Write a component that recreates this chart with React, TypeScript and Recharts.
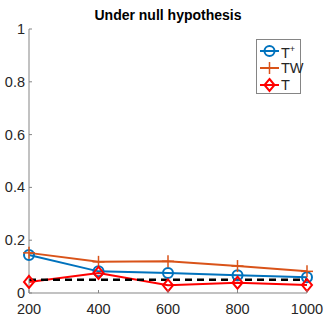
import React from "react";
import { LineChart, Line, XAxis, YAxis } from "recharts";

const sampleSizes = [200, 400, 600, 800, 1000];
const tPlus = [0.144, 0.082, 0.076, 0.067, 0.06];
const tw = [0.152, 0.118, 0.12, 0.102, 0.082];
const tStat = [0.042, 0.076, 0.029, 0.039, 0.03];
const nominal = [0.05, 0.05, 0.05, 0.05, 0.05];
const yTicks = [0, 0.2, 0.4, 0.6, 0.8, 1];

const data = sampleSizes.map((n, i) => ({
  n,
  tPlus: tPlus[i],
  tw: tw[i],
  t: tStat[i],
  nominal: nominal[i],
}));

const BLUE = "#0072BD";
const ORANGE = "#D95319";
const RED = "#FF0000";
const AXIS = "#858585";
const TEXT = "#262626";
const FONT = "'Liberation Sans', Arial, sans-serif";
const M = 4;

const fmt = (v: number) => String(v);

const BottomTick = (props: any) => {
  const { x, y, payload } = props;
  const ay = y - M;
  return (
    <g>
      <line x1={x} y1={ay} x2={x} y2={ay - 3} stroke={AXIS} />
      <text x={x} y={ay + 21} textAnchor="middle" fontSize={14.5} fill={TEXT} fontFamily={FONT}>
        {fmt(payload.value)}
      </text>
    </g>
  );
};

const LeftTick = (props: any) => {
  const { x, y, payload } = props;
  const ax = x + M;
  return (
    <g>
      <line x1={ax} y1={y} x2={ax + 3} y2={y} stroke={AXIS} />
      <text x={ax - 4} y={y + 5} textAnchor="end" fontSize={14.5} fill={TEXT} fontFamily={FONT}>
        {fmt(payload.value)}
      </text>
    </g>
  );
};

const TopTick = (props: any) => {
  const { x, y } = props;
  const ay = y + M;
  return <line x1={x} y1={ay} x2={x} y2={ay + 3} stroke={AXIS} />;
};

const RightTick = (props: any) => {
  const { x, y } = props;
  const ax = x - M;
  return <line x1={ax} y1={y} x2={ax - 3} y2={y} stroke={AXIS} />;
};

const CircleDot = (props: any) => {
  const { cx, cy, stroke } = props;
  if (cx == null || cy == null) return null;
  return <circle cx={cx} cy={cy} r={5} fill="none" stroke={stroke} strokeWidth={2} />;
};

const PlusDot = (props: any) => {
  const { cx, cy, stroke } = props;
  if (cx == null || cy == null) return null;
  return (
    <g stroke={stroke} strokeWidth={1.5}>
      <line x1={cx - 6} y1={cy} x2={cx + 6} y2={cy} />
      <line x1={cx} y1={cy - 6} x2={cx} y2={cy + 6} />
    </g>
  );
};

const DiamondDot = (props: any) => {
  const { cx, cy, stroke } = props;
  if (cx == null || cy == null) return null;
  return (
    <polygon
      points={`${cx},${cy - 6} ${cx + 5},${cy} ${cx},${cy + 6} ${cx - 5},${cy}`}
      fill="none"
      stroke={stroke}
      strokeWidth={2}
    />
  );
};

const legendItems = [
  { key: "tPlus", color: BLUE, label: <span>T<sup style={{ fontSize: 9 }}>+</sup></span>, Dot: CircleDot },
  { key: "tw", color: ORANGE, label: <span>TW</span>, Dot: PlusDot },
  { key: "t", color: RED, label: <span>T</span>, Dot: DiamondDot },
];

export default function App() {
  return (
    <div style={{ position: "absolute", left: 0, top: 0, width: 327, height: 327, background: "#fff" }}>
      <div
        style={{
          position: "absolute",
          left: 29,
          width: 278,
          top: 7,
          textAlign: "center",
          fontFamily: FONT,
          fontWeight: "bold",
          fontSize: 14,
          color: "#000",
        }}
      >
        Under null hypothesis
      </div>
      <LineChart width={327} height={327} data={data} margin={{ top: 29, right: 20, bottom: 0, left: 0 }}>
        <XAxis
          xAxisId="b"
          dataKey="n"
          type="number"
          domain={[200, 1000]}
          ticks={sampleSizes}
          height={34}
          tickSize={0}
          tickMargin={M}
          tickLine={false}
          axisLine={{ stroke: AXIS }}
          tick={<BottomTick />}
        />
        <XAxis
          xAxisId="t"
          orientation="top"
          dataKey="n"
          type="number"
          domain={[200, 1000]}
          ticks={sampleSizes}
          height={0}
          tickSize={0}
          tickMargin={M}
          tickLine={false}
          axisLine={{ stroke: AXIS }}
          tick={<TopTick />}
        />
        <YAxis
          yAxisId="l"
          type="number"
          domain={[0, 1]}
          ticks={yTicks}
          width={29}
          tickSize={0}
          tickMargin={M}
          tickLine={false}
          axisLine={{ stroke: AXIS }}
          tick={<LeftTick />}
        />
        <YAxis
          yAxisId="r"
          orientation="right"
          type="number"
          domain={[0, 1]}
          ticks={yTicks}
          width={0}
          tickSize={0}
          tickMargin={M}
          tickLine={false}
          axisLine={{ stroke: AXIS }}
          tick={<RightTick />}
        />
        <Line xAxisId="b" yAxisId="l" dataKey="tPlus" stroke={BLUE} strokeWidth={2} dot={<CircleDot />} isAnimationActive={false} />
        <Line xAxisId="b" yAxisId="l" dataKey="tw" stroke={ORANGE} strokeWidth={2} dot={<PlusDot />} isAnimationActive={false} />
        <Line xAxisId="b" yAxisId="l" dataKey="t" stroke={RED} strokeWidth={2} dot={<DiamondDot />} isAnimationActive={false} />
        <Line
          xAxisId="b"
          yAxisId="l"
          dataKey="nominal"
          stroke="#000"
          strokeWidth={2.5}
          strokeDasharray="7 5"
          dot={false}
          isAnimationActive={false}
        />
      </LineChart>
      <div
        style={{
          position: "absolute",
          left: 256,
          top: 39,
          width: 43,
          height: 53,
          border: `1px solid ${AXIS}`,
          background: "#fff",
          fontFamily: FONT,
          fontSize: 14.5,
          color: TEXT,
        }}
      >
        {legendItems.map((it, i) => (
          <div key={it.key} style={{ position: "absolute", left: 2, top: 3 + i * 17, height: 16, display: "flex", alignItems: "center" }}>
            <svg width={21} height={16}>
              <line x1={1} y1={8} x2={20} y2={8} stroke={it.color} strokeWidth={2} />
              <it.Dot cx={10.5} cy={8} stroke={it.color} />
            </svg>
            <span style={{ marginLeft: 1, lineHeight: "16px" }}>{it.label}</span>
          </div>
        ))}
      </div>
    </div>
  );
}
